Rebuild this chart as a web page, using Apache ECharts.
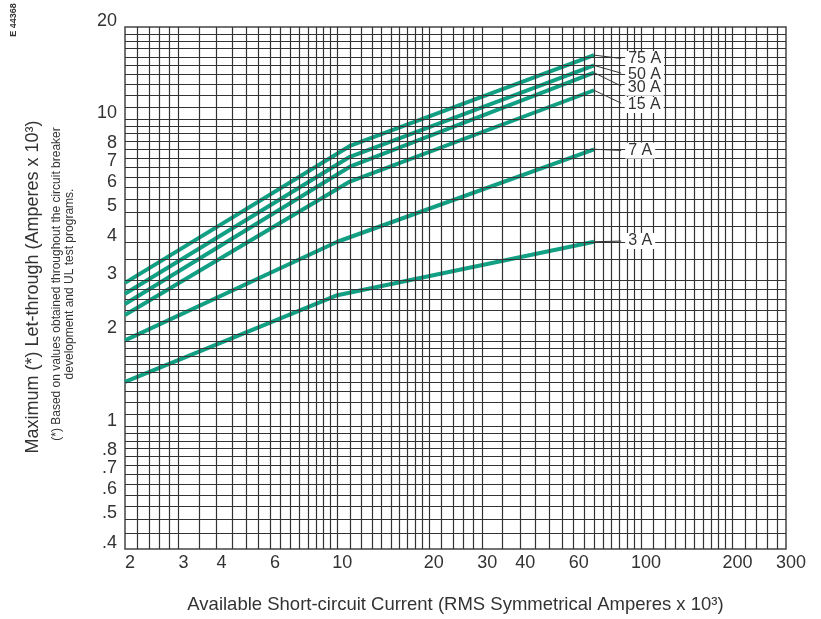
<!DOCTYPE html>
<html>
<head>
<meta charset="utf-8">
<title>Let-through current</title>
<script src="https://cdn.jsdelivr.net/npm/echarts@6/dist/echarts.min.js"></script>
<style>
  html, body { margin: 0; padding: 0; background: #fff; }
  #chart { width: 821px; height: 619px; }
</style>
</head>
<body>
<div id="chart"></div>
<script>
// breaker ratings, one curve each
var ratings = ['75 A', '50 A', '30 A', '15 A', '7 A', '3 A'];

// available current (kA) at the points
var kaUpper = [2, 11, 70];   // 75, 50, 30, 15 A bend near 11 kA
var kaLower = [2, 10, 70];   // 7 A and 3 A

// maximum let-through (kA)
var amp75 = [2.94, 8.2, 16.2];
var amp50 = [2.71, 7.56, 15.0];
var amp30 = [2.51, 7.02, 14.2];
var amp15 = [2.31, 6.28, 12.45];
var amp7 = [1.91, 4.0, 8.0];
var amp3 = [1.40, 2.68, 4.0];

// leader lines run from the curve end to the rating label
var leaderKa = 86;
var leaderAmp = [15.8, 14.15, 12.85, 11.3, 7.93, 4.02];

// tick labels
var xTicks = [2, 3, 4, 6, 10, 20, 30, 40, 60, 100, 200, 300];
var yTicks = [0.4, 0.5, 0.6, 0.7, 0.8, 1, 2, 3, 4, 5, 6, 7, 8, 10, 20];

// graph paper lines
var xGrid = [2.2, 2.4, 2.6, 2.8, 3, 3.5, 4, 4.5, 5, 5.5, 6, 6.5, 7, 7.5, 8, 8.5, 9, 9.5, 10,
    11, 12, 13, 14, 15, 16, 17, 18, 19, 20, 22, 24, 26, 28, 30,
    35, 40, 45, 50, 55, 60, 65, 70, 75, 80, 85, 90, 95, 100,
    110, 120, 130, 140, 150, 160, 170, 180, 190, 200, 220, 240, 260, 280];
var yGrid = [0.45, 0.5, 0.55, 0.6, 0.65, 0.7, 0.75, 0.8, 0.85, 0.9, 0.95, 1,
    1.1, 1.2, 1.3, 1.4, 1.5, 1.6, 1.7, 1.8, 1.9, 2, 2.2, 2.4, 2.6, 2.8, 3,
    3.5, 4, 4.5, 5, 5.5, 6, 6.5, 7, 7.5, 8, 8.5, 9, 9.5, 10,
    11, 12, 13, 14, 15, 16, 17, 18, 19];

var FONT = '"Liberation Sans", Arial, sans-serif';
var TEAL = '#12a085';

function pairs(xs, ys) {
    return xs.map(function (x, i) { return [x, ys[i]]; });
}

function tickText(v) {
    var n = +Number(v).toPrecision(6);
    var s = String(n);
    return n < 1 ? s.replace('0.', '.') : s;
}

var curveData = [
    pairs(kaUpper, amp75), pairs(kaUpper, amp50), pairs(kaUpper, amp30),
    pairs(kaUpper, amp15), pairs(kaLower, amp7), pairs(kaLower, amp3)
];

var gridLines = [];
xGrid.forEach(function (v) { gridLines.push({ xAxis: v }); });
yGrid.forEach(function (v) { gridLines.push({ yAxis: v }); });

var series = [{
    type: 'line',
    name: 'paper',
    data: [],
    z: 1,
    silent: true,
    markLine: {
        silent: true,
        animation: false,
        symbol: ['none', 'none'],
        label: { show: false },
        lineStyle: { color: '#333', width: 1.2, type: 'solid' },
        data: gridLines
    }
}];

ratings.forEach(function (name, i) {
    var last = curveData[i][curveData[i].length - 1];
    series.push({
        type: 'line',
        name: name,
        data: curveData[i],
        z: 3,
        symbol: 'none',
        lineStyle: { color: TEAL, width: 4 },
        markLine: {
            silent: true,
            animation: false,
            symbol: ['none', 'none'],
            lineStyle: { color: '#333', width: 1, type: 'solid' },
            label: {
                show: true,
                position: 'end',
                distance: 4,
                formatter: name,
                fontFamily: FONT,
                fontSize: 16,
                color: '#333',
                backgroundColor: '#fff',
                padding: [0, 3]
            },
            data: [[{ coord: [last[0], last[1]] }, { coord: [leaderKa, leaderAmp[i]] }]]
        }
    });
});

var chart = echarts.init(document.getElementById('chart'));
chart.setOption({
    animation: false,
    backgroundColor: '#fff',
    grid: {
        left: 125, right: 35, top: 27, bottom: 68,
        show: true, borderColor: '#444', borderWidth: 1.5
    },
    xAxis: {
        type: 'log',
        logBase: 10,
        min: 2,
        max: 300,
        name: 'Available Short-circuit Current (RMS Symmetrical Amperes x 10³)',
        nameLocation: 'middle',
        nameGap: 46,
        nameTextStyle: { fontFamily: FONT, fontSize: 18.5, color: '#333' },
        axisLine: { show: false },
        axisTick: { show: false },
        splitLine: { show: false },
        axisLabel: {
            customValues: xTicks,
            formatter: tickText,
            fontFamily: FONT,
            fontSize: 18,
            color: '#333',
            margin: 5,
            padding: [0, 0, 0, 10]
        }
    },
    yAxis: {
        type: 'log',
        logBase: 10,
        min: 0.4,
        max: 20,
        axisLine: { show: false },
        axisTick: { show: false },
        splitLine: { show: false },
        axisLabel: {
            customValues: yTicks,
            formatter: tickText,
            fontFamily: FONT,
            fontSize: 18,
            color: '#333',
            margin: 8,
            verticalAlign: 'bottom',
            lineHeight: 12
        }
    },
    graphic: [
        {
            type: 'text', x: 33, y: 287, rotation: Math.PI / 2,
            style: {
                text: 'Maximum (*) Let-through (Amperes x 10³)',
                font: '18px ' + FONT, fill: '#333', align: 'center', verticalAlign: 'middle'
            }
        },
        {
            type: 'text', x: 57, y: 284, rotation: Math.PI / 2,
            style: {
                text: '(*) Based on values obtained throughout the circuit breaker',
                font: '12px ' + FONT, fill: '#333', align: 'center', verticalAlign: 'middle'
            }
        },
        {
            type: 'text', x: 70, y: 284, rotation: Math.PI / 2,
            style: {
                text: 'development and UL test programs.',
                font: '12px ' + FONT, fill: '#333', align: 'center', verticalAlign: 'middle'
            }
        },
        {
            type: 'text', x: 14, y: 20, rotation: Math.PI / 2,
            style: {
                text: 'E 44368',
                font: 'bold 9px ' + FONT, fill: '#333', align: 'center', verticalAlign: 'middle'
            }
        }
    ],
    series: series
});
</script>
</body>
</html>
